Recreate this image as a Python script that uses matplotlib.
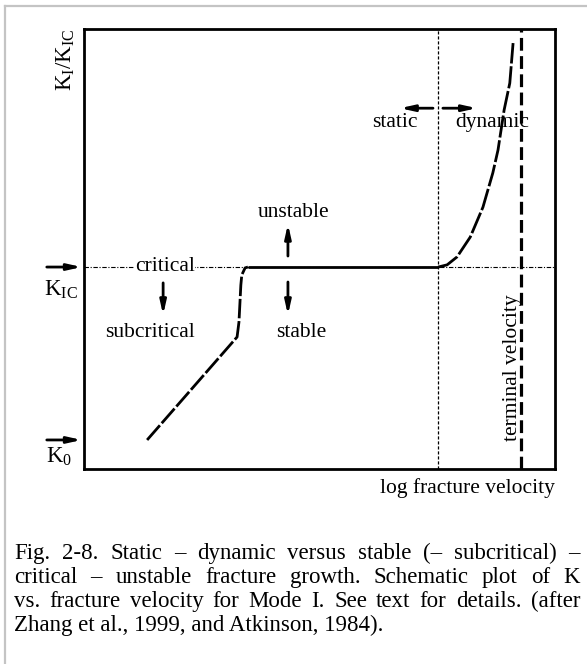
import matplotlib
matplotlib.use('Agg')
import matplotlib.pyplot as plt
from matplotlib.lines import Line2D

plt.rcParams['font.family'] = ['Liberation Serif', 'DejaVu Serif']
plt.rcParams['mathtext.fontset'] = 'custom'
plt.rcParams['mathtext.rm'] = 'Liberation Serif'
plt.rcParams['mathtext.it'] = 'Liberation Serif:italic'

# schematic curve, axis units 0..10 on both axes
sub_x = [1.34, 3.25, 3.29, 3.33, 3.35, 3.42, 3.48]
sub_y = [0.66, 3.00, 3.34, 4.18, 4.41, 4.57, 4.59]
flat_x = [3.48, 7.52]
flat_y = [4.59, 4.59]
dyn_x = [7.52, 7.71, 7.92, 8.20, 8.47, 8.68, 8.79, 8.92, 9.04, 9.11]
dyn_y = [4.59, 4.64, 4.82, 5.27, 5.95, 6.73, 7.25, 8.16, 8.77, 9.68]

k_ic = 4.59
k_0 = 0.66
v_static = 7.52
v_terminal = 9.28

caption = [
    "Fig. 2-8. Static \u2013 dynamic versus stable (\u2013 subcritical) \u2013",
    "critical \u2013 unstable fracture growth. Schematic plot of K",
    "vs. fracture velocity for Mode I. See text for details. (after",
    "Zhang et al., 1999, and Atkinson, 1984).",
]

W, H = 587, 664
fig = plt.figure(figsize=(W / 100, H / 100), dpi=100)
ax = fig.add_axes([84 / W, 1 - 469 / H, 471 / W, 440 / H])
ax.set_xlim(0, 10)
ax.set_ylim(0, 10)
ax.set_xticks([])
ax.set_yticks([])
for s in ax.spines.values():
    s.set_linewidth(2)

# grey frame around the figure
fig.add_artist(Line2D([5 / W, 5 / W], [0, 1 - 6 / H], color='#c4c4c4', lw=1.6))
fig.add_artist(Line2D([5 / W, 1], [1 - 6 / H, 1 - 6 / H], color='#c4c4c4', lw=1.6))

# reference lines
ax.plot([0, 10], [k_ic, k_ic], color='k', lw=0.8, dashes=(4, 1.5, 1, 1.5))
ax.plot([v_static, v_static], [0, 10], color='k', lw=0.9, dashes=(2.5, 1.5))
ax.plot([v_terminal, v_terminal], [0, 10], color='k', lw=2.3, dashes=(4, 1.7))

# curve
ax.plot(sub_x, sub_y, color='k', lw=2, dashes=(7, 1))
ax.plot(flat_x, flat_y, color='k', lw=2, solid_capstyle='butt')
ax.plot(dyn_x, dyn_y, color='k', lw=2, dashes=(8, 1))

fs = 15.5
fk = 16.5


def arrow(x0, y0, x1, y1):
    ax.annotate('', xy=(x1, y1), xytext=(x0, y0), annotation_clip=False,
                arrowprops=dict(arrowstyle='-|>,head_length=0.8,head_width=0.18',
                                lw=2, color='k', shrinkA=0, shrinkB=0))


# left markers
arrow(-0.79, k_ic, -0.05, k_ic)
arrow(-0.79, k_0, -0.05, k_0)
ax.text(-0.38, 9.3, r'$\mathrm{K_I/K_{IC}}$', rotation=90, ha='center', va='center', fontsize=fk)
ax.text(-0.49, 4.08, r'$\mathrm{K_{IC}}$', ha='center', va='center', fontsize=fk)
ax.text(-0.53, 0.28, r'$\mathrm{K_0}$', ha='center', va='center', fontsize=fk)

ax.text(1.72, k_ic + 0.02, 'critical', ha='center', va='center', fontsize=fs,
        bbox=dict(facecolor='white', edgecolor='none', pad=0.3))
arrow(1.68, 4.23, 1.68, 3.5)
ax.text(1.40, 3.1, 'subcritical', ha='center', va='center', fontsize=fs)

arrow(4.33, 4.84, 4.33, 5.57)
ax.text(4.46, 5.84, 'unstable', ha='center', va='center', fontsize=fs)
arrow(4.33, 4.25, 4.33, 3.5)
ax.text(4.62, 3.1, 'stable', ha='center', va='center', fontsize=fs)

arrow(7.41, 8.2, 6.71, 8.2)
ax.text(6.6, 7.88, 'static', ha='center', va='center', fontsize=fs)
arrow(7.62, 8.2, 8.34, 8.2)
ax.text(8.66, 7.88, 'dynamic', ha='center', va='center', fontsize=fs)

ax.text(9.09, 2.3, 'terminal velocity', rotation=90, ha='center', va='center', fontsize=fs)
ax.text(10, -0.43, 'log fracture velocity', ha='right', va='center', fontsize=fs)

# justified caption
fc = 16.5
r = fig.canvas.get_renderer()
x0, x1 = 14 / W, 580 / W
for i, line in enumerate(caption):
    y = 1 - (559 + 24 * i) / H
    if i == len(caption) - 1:
        fig.text(x0, y, line, fontsize=fc, va='baseline')
        continue
    words = line.split(' ')
    txts = [fig.text(0, y, w, fontsize=fc, va='baseline') for w in words]
    widths = [t.get_window_extent(r).width / W for t in txts]
    gap = (x1 - x0 - sum(widths)) / (len(words) - 1)
    x = x0
    for t, w in zip(txts, widths):
        t.set_x(x)
        x += w + gap

fig.savefig('out.png', dpi=100)
